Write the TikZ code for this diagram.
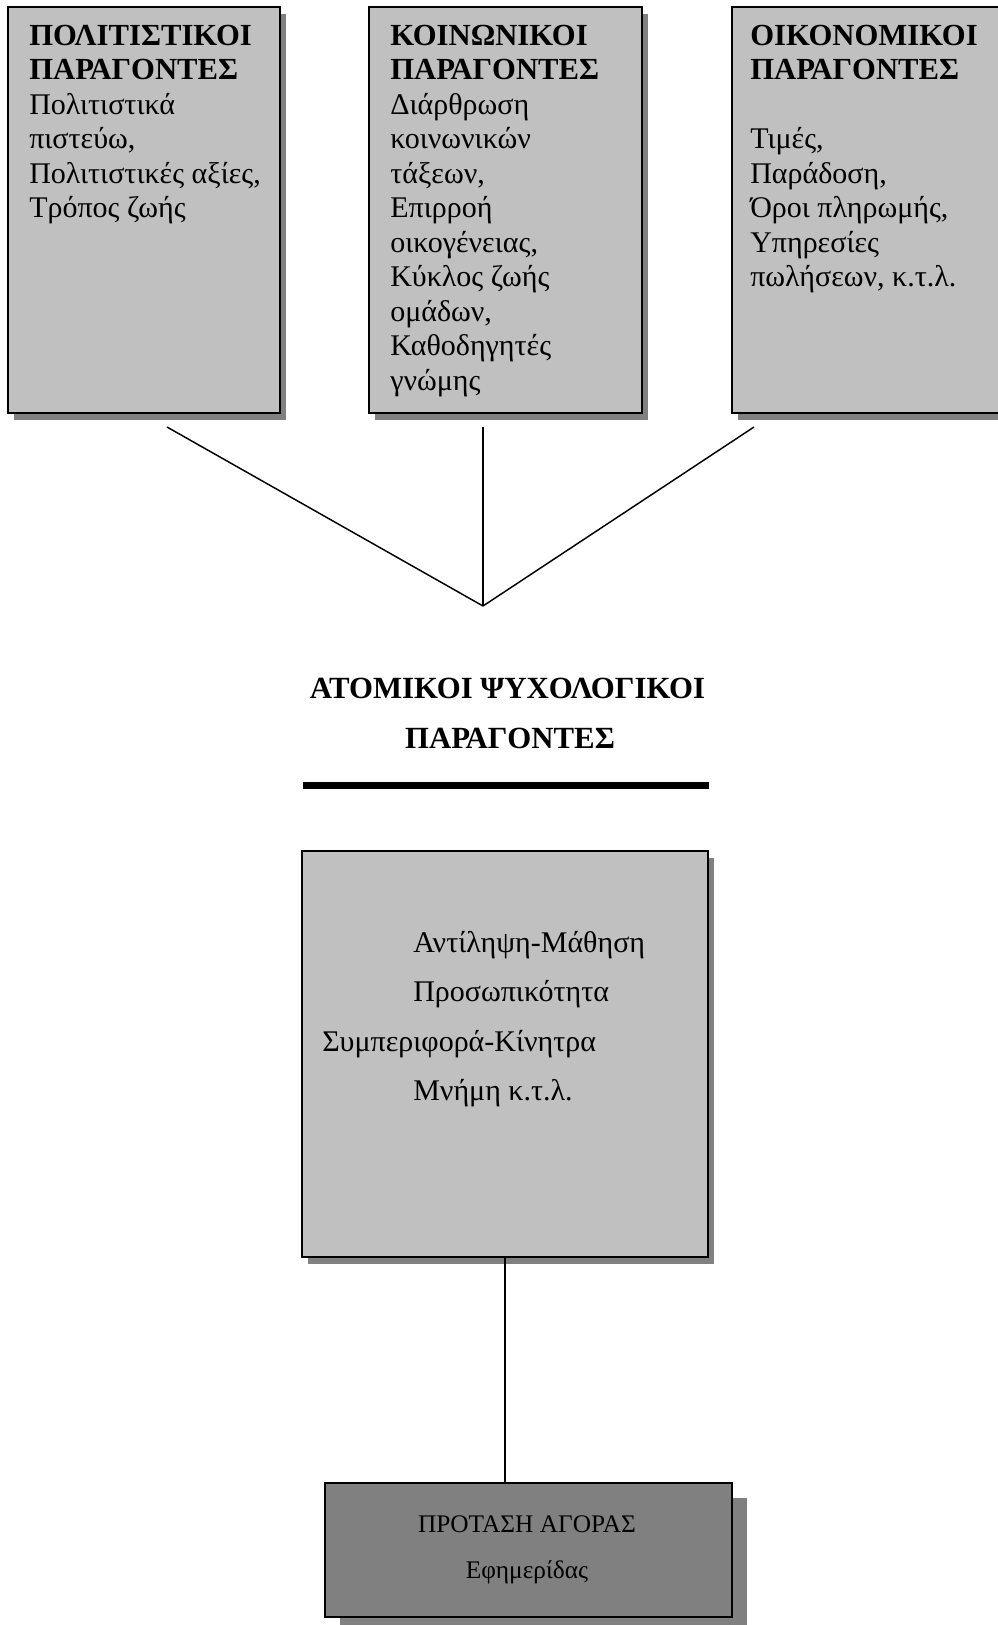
\documentclass[tikz,border=0pt]{standalone}
\usepackage{fontspec}
\setmainfont{Liberation Serif}
\usetikzlibrary{fit,shadows}
\definecolor{boxgray}{RGB}{192,192,192}
\definecolor{shadowgray}{RGB}{128,128,128}
\definecolor{darkbox}{RGB}{128,128,128}
\begin{document}
\begin{tikzpicture}[x=0.75pt,y=-0.75pt,
  box/.style={draw=black, line width=1.5pt, fill=boxgray, inner sep=0pt, outer sep=0pt,
    drop shadow={shadow xshift=4.8pt, shadow yshift=-5.5pt, fill=shadowgray, opacity=1}},
  darkboxstyle/.style={draw=black, line width=1.5pt, fill=darkbox, inner sep=0pt, outer sep=0pt,
    drop shadow={shadow xshift=11.25pt, shadow yshift=-11.25pt, fill=shadowgray, opacity=1}},
  hd/.style={anchor=base west, inner sep=0pt, font=\fontsize{23pt}{26pt}\selectfont\bfseries},
  txt/.style={anchor=base west, inner sep=0pt, font=\fontsize{22.5pt}{26pt}\selectfont},
  ttl/.style={anchor=base, inner sep=0pt, font=\fontsize{23.1pt}{26pt}\selectfont\bfseries},
  small/.style={anchor=base, inner sep=0pt, font=\fontsize{19pt}{22pt}\selectfont},
  conn/.style={draw=black, line width=1.1pt},
  bar/.style={draw=black, line width=5.25pt}
]
\useasboundingbox (0,0) rectangle (998,1625);

% top boxes
\node[box, fit={(8,7) (280,413)}] (b1) {};
\node[box, fit={(369,7) (642,413)}] (b2) {};
\node[box, fit={(732,7) (1012,413)}] (b3) {};

% box 1 text
\node[hd] (a1) at (29,45) {ΠΟΛΙΤΙΣΤΙΚΟΙ};
\node[hd] (a2) at (29,79.5) {ΠΑΡΑΓΟΝΤΕΣ};
\foreach \t [count=\i from 3] in {{Πολιτιστικά},{πιστεύω,},{Πολιτιστικές αξίες,},{Τρόπος ζωής}}
  \node[txt] (a\i) at (29,{45+34.5*(\i-1)}) {\t};

% box 2 text
\node[hd] (c1) at (390,45) {ΚΟΙΝΩΝΙΚΟΙ};
\node[hd] (c2) at (390,79.5) {ΠΑΡΑΓΟΝΤΕΣ};
\foreach \t [count=\i from 3] in {{Διάρθρωση},{κοινωνικών},{τάξεων,},{Επιρροή},{οικογένειας,},{Κύκλος ζωής},{ομάδων,},{Καθοδηγητές},{γνώμης}}
  \node[txt] (c\i) at (390,{45+34.5*(\i-1)}) {\t};

% box 3 text
\node[hd] (d1) at (750,45) {ΟΙΚΟΝΟΜΙΚΟΙ};
\node[hd] (d2) at (750,79.5) {ΠΑΡΑΓΟΝΤΕΣ};
\foreach \t [count=\i from 4] in {{Τιμές,},{Παράδοση,},{Όροι πληρωμής,},{Υπηρεσίες},{πωλήσεων, κ.τ.λ.}}
  \node[txt] (d\i) at (750,{45+34.5*(\i-1)}) {\t};

% converging lines
\coordinate (s1) at (167,427);
\coordinate (s2) at (483,427);
\coordinate (s3) at (754,427);
\coordinate (j) at (483,606);
\draw[conn] (s1) -- (j);
\draw[conn] (s2) -- (j);
\draw[conn] (s3) -- (j);

% title
\node[ttl] (t1) at (507.5,698) {ΑΤΟΜΙΚΟΙ ΨΥΧΟΛΟΓΙΚΟΙ};
\node[ttl] (t2) at (510,748) {ΠΑΡΑΓΟΝΤΕΣ};
\coordinate (bl) at (303,785.5);
\coordinate (br) at (709,785.5);
\draw[bar] (bl) -- (br);

% middle box
\node[box, fit={(302,851) (708,1257)}] (b4) {};
\node[txt] (m1) at (413,952) {Αντίληψη-Μάθηση};
\node[txt] (m2) at (413,1001.5) {Προσωπικότητα};
\node[txt] (m3) at (322,1051) {Συμπεριφορά-Κίνητρα};
\node[txt] (m4) at (413,1100) {Μνήμη κ.τ.λ.};

% bottom box
\node[darkboxstyle, fit={(325,1483) (732,1617)}] (b5) {};
\node[small] (p1) at (527,1532) {ΠΡΟΤΑΣΗ ΑΓΟΡΑΣ};
\node[small] (p2) at (527,1578) {Εφημερίδας};

\draw[conn] (b4.south) -- (b4.south |- b5.north);
\end{tikzpicture}
\end{document}
